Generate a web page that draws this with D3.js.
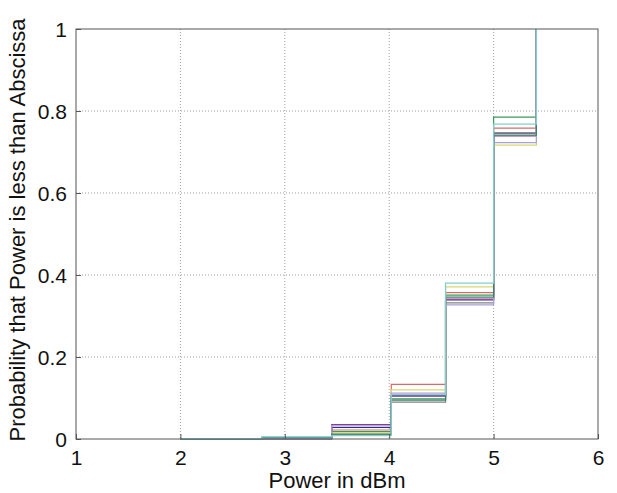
<!DOCTYPE html>
<html>
<head>
<meta charset="utf-8">
<script src="https://cdn.jsdelivr.net/npm/d3@7"></script>
<style>
  body { margin: 0; background: #fff; }
  text { font-family: "Liberation Sans", Arial, sans-serif; fill: #111; }
</style>
</head>
<body>
<script>
// step positions (Power in dBm) shared by every curve
var stepX = [2, 2.78, 3.45, 4.02, 4.54, 5.0, 5.41];

// cumulative probability after each step, one list per curve
var blueLevels     = [0, 0,     0.028, 0.105, 0.339, 0.746, 1];
var greenLevels    = [0, 0.002, 0.018, 0.098, 0.351, 0.785, 1];
var redLevels      = [0, 0.002, 0.022, 0.133, 0.357, 0.758, 1];
var purpleLevels   = [0, 0.003, 0.035, 0.105, 0.341, 0.739, 1];
var yellowLevels   = [0, 0.002, 0.015, 0.120, 0.371, 0.717, 1];
var grayLevels     = [0, 0.002, 0.010, 0.090, 0.332, 0.746, 1];
var lavenderLevels = [0, 0.003, 0.032, 0.112, 0.327, 0.723, 1];
var tealLevels     = [0, 0.004, 0.012, 0.095, 0.346, 0.741, 1];
var cyanLevels     = [0.001, 0.005, 0.008, 0.108, 0.380, 0.768, 1];

var xTicks = [1, 2, 3, 4, 5, 6];
var yTicks = [0, 0.2, 0.4, 0.6, 0.8, 1];

var series = [
  {levels: blueLevels,     color: "#2b2b9e"},
  {levels: greenLevels,    color: "#3c9a5a"},
  {levels: redLevels,      color: "#d96a6a"},
  {levels: purpleLevels,   color: "#8e3a8e"},
  {levels: yellowLevels,   color: "#d8d870"},
  {levels: grayLevels,     color: "#808080"},
  {levels: lavenderLevels, color: "#a8a0d8"},
  {levels: tealLevels,     color: "#3f7f6a"},
  {levels: cyanLevels,     color: "#7fd0d0"}
];

var width = 617, height = 493;
var margin = {top: 29, right: 19, bottom: 54, left: 76};
var w = width - margin.left - margin.right,
    h = height - margin.top - margin.bottom;

var x = d3.scaleLinear().domain([1, 6]).range([0, w]);
var y = d3.scaleLinear().domain([0, 1]).range([h, 0]);

var svg = d3.select("body").append("svg")
    .attr("width", width)
    .attr("height", height)
  .append("g")
    .attr("transform", "translate(" + margin.left + "," + margin.top + ")");

// dotted grid
svg.append("g").selectAll("line.gx")
    .data(xTicks.slice(1, -1))
  .enter().append("line")
    .attr("x1", function(d) { return x(d); })
    .attr("x2", function(d) { return x(d); })
    .attr("y1", 0).attr("y2", h)
    .attr("stroke", "#a0a0a0").attr("stroke-dasharray", "1,2");
svg.append("g").selectAll("line.gy")
    .data(yTicks.slice(1, -1))
  .enter().append("line")
    .attr("y1", function(d) { return y(d); })
    .attr("y2", function(d) { return y(d); })
    .attr("x1", 0).attr("x2", w)
    .attr("stroke", "#a0a0a0").attr("stroke-dasharray", "1,2");

// stairs
var line = d3.line()
    .x(function(d) { return x(d[0]); })
    .y(function(d) { return y(d[1]); })
    .curve(d3.curveStepAfter);

svg.append("g").selectAll("path")
    .data(series)
  .enter().append("path")
    .attr("fill", "none")
    .attr("stroke", function(d) { return d.color; })
    .attr("stroke-width", 1.2)
    .attr("d", function(d) { return line(d3.zip(stepX, d.levels)); });

// axes
var xAxis = svg.append("g")
    .attr("transform", "translate(0," + h + ")")
    .call(d3.axisBottom(x).tickValues(xTicks).tickFormat(d3.format("d")).tickSizeInner(-5).tickSizeOuter(0).tickPadding(11));
var yAxis = svg.append("g")
    .call(d3.axisLeft(y).tickValues(yTicks).tickFormat(function(d) { return d === 0 || d === 1 ? d : d3.format(".1f")(d); }).tickSizeInner(-5).tickSizeOuter(0).tickPadding(9));

[xAxis, yAxis].forEach(function(a) {
  a.select(".domain").remove();
  a.selectAll("line").attr("stroke", "#555");
  a.selectAll("text").attr("font-size", 21).attr("fill", "#111")
    .style("font-family", "Liberation Sans, Arial, sans-serif");
});
yAxis.selectAll("text").attr("dy", "0.35em");

// box
svg.append("rect")
    .attr("width", w).attr("height", h)
    .attr("fill", "none").attr("stroke", "#555").attr("stroke-width", 1);

// labels
svg.append("text")
    .attr("x", w / 2).attr("y", h + 49)
    .attr("text-anchor", "middle")
    .attr("font-size", 22)
    .text("Power in dBm");

svg.append("text")
    .attr("transform", "rotate(-90)")
    .attr("x", -h / 2 + 4).attr("y", -51)
    .attr("text-anchor", "middle")
    .attr("font-size", 22)
    .text("Probability that Power is less than Abscissa");
</script>
</body>
</html>
